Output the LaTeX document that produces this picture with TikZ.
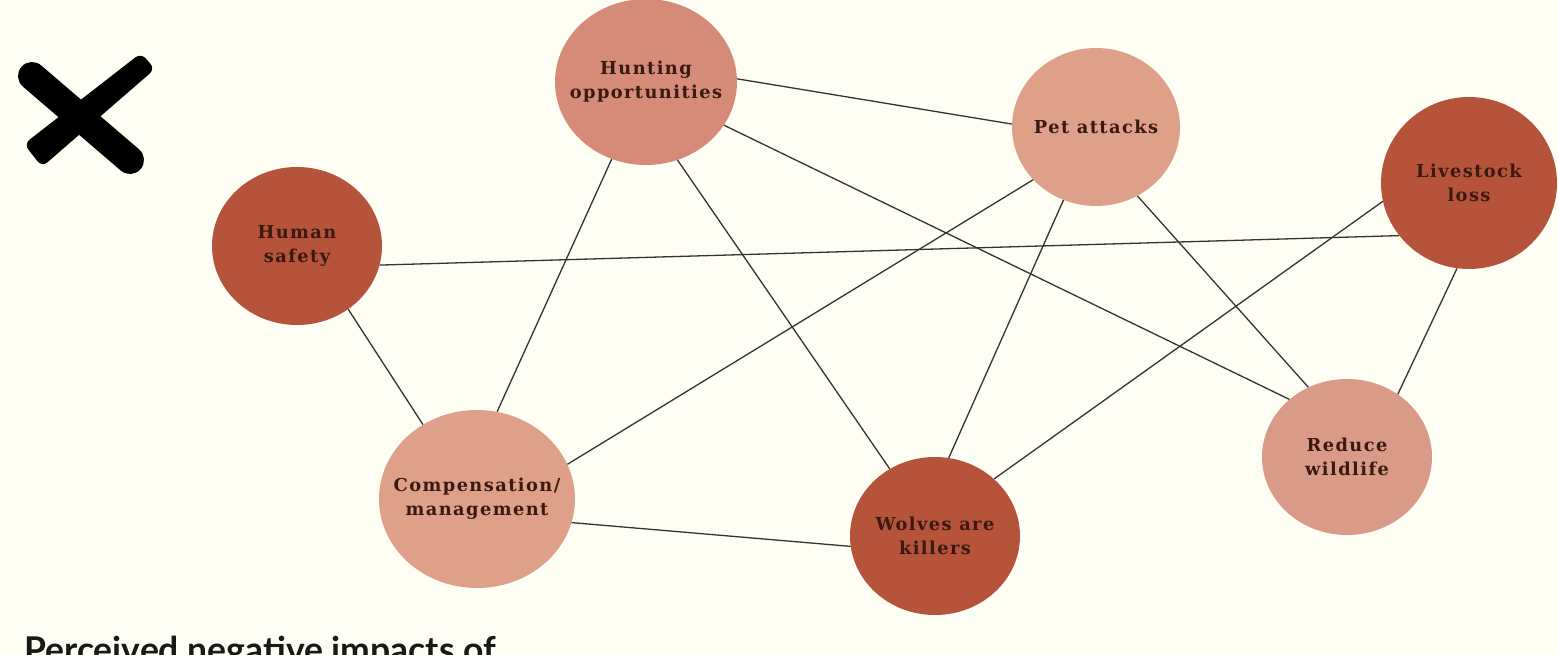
\documentclass[tikz,border=0pt]{standalone}
\usepackage{fontspec}
\usetikzlibrary{shapes.geometric}
\newfontfamily\nodefont[LetterSpace=8]{DejaVu Serif}
\newfontfamily\capfont{Lato}
\definecolor{bg}{HTML}{FFFEF4}
\definecolor{darkn}{HTML}{B5533B}
\definecolor{lightn}{HTML}{DFA089}
\definecolor{huntc}{HTML}{D68B78}
\definecolor{redc}{HTML}{D99A88}
\definecolor{txt}{HTML}{3A1A10}
\definecolor{edge}{HTML}{333333}
\tikzset{
  bub/.style={ellipse, inner xsep=-50pt, inner ysep=-20pt, align=center, text=txt,
    font=\nodefont\bfseries\fontsize{17.8}{24}\selectfont},
  link/.style={draw=edge, line width=1.3pt},
}
\begin{document}
\begin{tikzpicture}[x=1pt,y=-1pt]
\clip (0,0) rectangle (1558,655);
\fill[bg] (0,0) rectangle (1558,655);
% X mark
\draw[line width=28pt, line cap=round] (32,76) -- (130,160);
\fill[rounded corners=7pt] (141,53) -- (24,144) -- (42,167) -- (155,69) -- cycle;
% nodes
\node[bub, fill=huntc, minimum width=182pt, minimum height=166pt] (hunt) at (646,82) {Hunting\\opportunities};
\node[bub, fill=lightn, minimum width=168pt, minimum height=158pt] (pet) at (1096,127) {Pet attacks};
\node[bub, fill=darkn, minimum width=176pt, minimum height=172pt] (live) at (1469,183) {Livestock\\loss};
\node[bub, fill=darkn, minimum width=170pt, minimum height=158pt] (human) at (297,246) {Human\\safety};
\node[bub, fill=lightn, minimum width=196pt, minimum height=178pt] (comp) at (477,499) {Compensation/\\management};
\node[bub, fill=darkn, minimum width=170pt, minimum height=158pt] (wolf) at (935,536) {Wolves are\\killers};
\node[bub, fill=redc, minimum width=170pt, minimum height=156pt] (red) at (1347,457) {Reduce\\wildlife};
% connectors
\draw[link] (hunt.2.6) -- (pet.178.6);
\draw[link] (hunt.-29.7) -- (red.135);
\draw[link] (hunt.-68.8) -- (wolf.124.3);
\draw[link] (hunt.-114.2) -- (comp.77);
\draw[link] (pet.-140.6) -- (comp.21.6);
\draw[link] (pet.-114.9) -- (wolf.80);
\draw[link] (pet.-59) -- (red.119.4);
\draw[link] (live.-143.3) -- (human.-13.7);
\draw[link] (live.-168.6) -- (wolf.44);
\draw[link] (live.-98) -- (red.51.9);
\draw[link] (human.-51.9) -- (comp.126.4);
\draw[link] (comp.-14.2) -- (wolf.-173.7);
% caption
\node[anchor=base west, inner sep=0pt, font=\capfont\bfseries\fontsize{35.5}{40}\selectfont, text=black!90] (cap) at (24,662) {Perceived negative impacts of};
\end{tikzpicture}
\end{document}
